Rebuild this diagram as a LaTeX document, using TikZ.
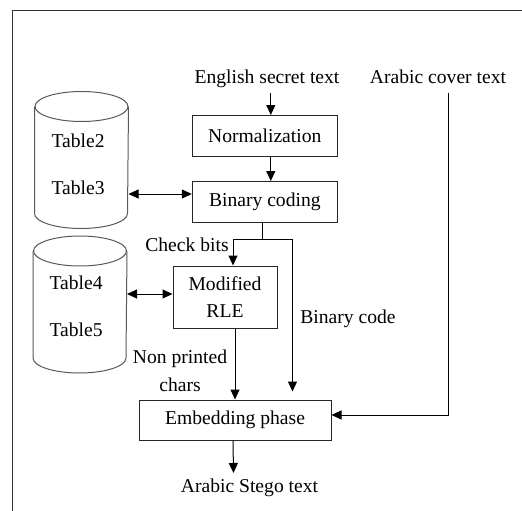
\documentclass[tikz,border=0pt]{standalone}
\usepackage{fontspec}
\setmainfont{Liberation Serif}
\usetikzlibrary{shapes.geometric,positioning,arrows.meta}

\begin{document}
\begin{tikzpicture}[x=1pt, y=-1pt,
        font=\fontsize{19.6}{27.5}\selectfont,
        line width=1pt,
        >={Triangle[length=10pt,width=9pt]},
        block/.style={rectangle, draw=black!85, minimum width=145pt, minimum height=41pt, inner sep=0pt, align=center},
        db/.style={rectangle, minimum width=93pt, minimum height=136pt, inner sep=0pt},
        dbline/.style={draw=black!65},
        lbl/.style={inner sep=0pt, align=center, text height=13pt, text depth=4pt}
    ]
        \useasboundingbox (0,0) rectangle (522,511);
        % Frame
        \draw[black!80] (12.5,511) -- (12.5,10.5) -- (522,10.5);

        % Inputs
        \node[lbl] (eng) at (267,79) {English secret text};
        \node[lbl] (arb) at (438,79) {Arabic cover text};

        % Blocks
        \node[block] (norm) at (264.8,136) {Normalization};
        \node[block] (bin) at (264.8,202) {Binary coding};
        \node[block, minimum width=104pt, minimum height=62pt] (rle) at (225,297) {Modified\\RLE};
        \node[block, minimum width=192pt, minimum height=40pt] (emb) at (235,420) {Embedding phase};
        \node[lbl] (out) at (249.5,488) {Arabic Stego text};

        % Tables (cylinders)
        \node[db] (db1) at (81.5,160) {};
        \node[db] (db2) at (80,304.5) {};
        \foreach \d in {db1,db2} {
            \draw[dbline] ([yshift=-15pt]\d.north west) -- ([yshift=15pt]\d.south west)
                arc[start angle=180, end angle=360, x radius=46.5pt, y radius=15pt]
                -- ([yshift=-15pt]\d.north east);
            \draw[dbline] ([yshift=-15pt]\d.north) ellipse[x radius=46.5pt, y radius=15pt];
        }
        \node[lbl, anchor=west] (t2) at (51,143) {Table2};
        \node[lbl, anchor=west] (t3) at (51,190) {Table3};
        \node[lbl, anchor=west] (t4) at (49,285) {Table4};
        \node[lbl, anchor=west] (t5) at (49,332) {Table5};

        % Labels
        \node[lbl] (chk) at (187,247) {Check bits};
        \node[lbl] (bcode) at (348,319) {Binary code};
        \node[lbl, text height=, text depth=] (npc) at (180,371) {Non printed\\chars};

        % Connections
        \draw[->] ([xshift=6pt,yshift=-5pt]norm.north |- eng.south) -- ([xshift=6pt]norm.north);
        \draw[->] ([xshift=6pt]norm.south) -- ([xshift=6pt]bin.north);
        \draw ([xshift=-2pt]bin.south) -- ++(0,16) coordinate (split);
        \draw[->] (split) -| ([xshift=8pt]rle.north);
        \draw[->] (split) -| ([xshift=57.5pt,yshift=8pt]emb.north);
        \draw[->] ([xshift=10pt]rle.south) -- ([xshift=10pt]rle.south |- emb.north);
        \draw[->] ([xshift=10pt,yshift=-5pt]arb.south) |- ([yshift=5pt]emb.east);
        \draw[->] ([xshift=-2pt]emb.south) -- ([xshift=-16pt,yshift=6pt]out.north);
        \draw[<->] ([yshift=-34pt]db1.east) -- ([yshift=-34pt]db1.east -| bin.west);
        \draw[<->] ([yshift=10.5pt]db2.east) -- ([yshift=10.5pt]db2.east -| rle.west);

    \end{tikzpicture}
\end{document}
